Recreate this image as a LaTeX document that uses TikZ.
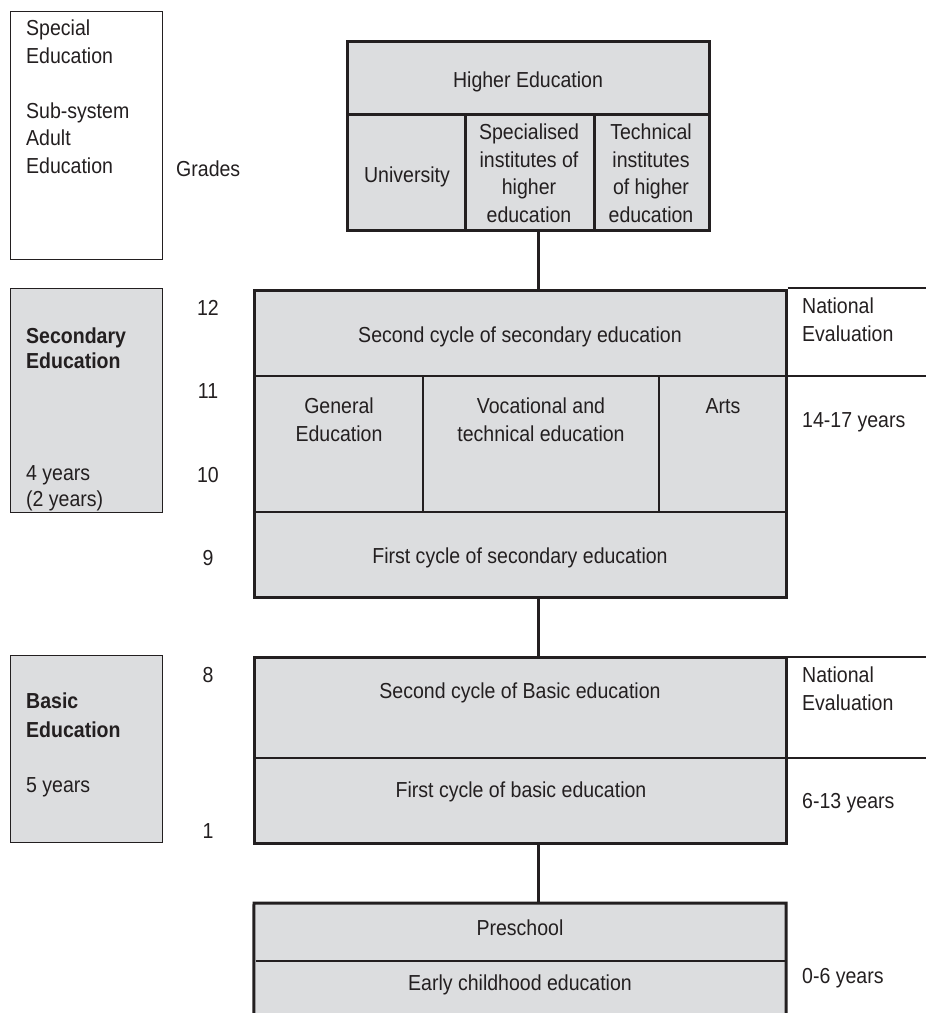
\documentclass[tikz,border=0pt]{standalone}
\usepackage{fontspec}
\setmainfont{Liberation Sans}[FakeStretch=0.9]
\definecolor{ink}{HTML}{231F20}
\definecolor{boxgray}{HTML}{DCDDDF}
\tikzset{
  txt/.style={font=\fontsize{21.7}{27.5}\selectfont, inner sep=0pt, text=ink, anchor=base},
  ltxt/.style={txt, anchor=base west, align=left},
  ctxt/.style={txt, align=center},
  block/.style={draw=ink, fill=boxgray, line width=3pt, inner sep=0pt},
  sidebox/.style={draw=ink, line width=1pt, inner sep=0pt},
  thickline/.style={draw=ink, line width=3pt},
  thinline/.style={draw=ink, line width=1.1pt},
  connector/.style={draw=ink, line width=3pt},
}
\begin{document}
\begin{tikzpicture}[x=1pt,y=-1pt]
\useasboundingbox (0,0) rectangle (926,1013);

% ---- left side boxes
\node[sidebox, fill=white, minimum width=152pt, minimum height=248pt] (spe) at (86,135) {};
\node[sidebox, fill=boxgray, minimum width=152pt, minimum height=224pt] (secl) at (86,400) {};
\node[sidebox, fill=boxgray, minimum width=152pt, minimum height=187pt] (basl) at (86,748.5) {};

% ---- main blocks
\node[block, minimum width=362pt, minimum height=189pt] (he) at (528,135.5) {};
\node[block, minimum width=532pt, minimum height=307pt] (sec) at (520,443.5) {};
\node[block, minimum width=532pt, minimum height=186pt] (bas) at (520,750) {};
\node[fill=boxgray, inner sep=0pt, minimum width=532pt, minimum height=120pt] (pre) at (520,963) {};
\draw[thickline] (pre.south west) -- (254,903) -- (786,903) -- (pre.south east);

% ---- dividers in Higher Education
\draw[thickline] (347,114) -- (709,114);
\draw[thickline] (465,114) -- (465,230);
\draw[thickline] (594,114) -- (594,230);

% ---- dividers in Secondary
\draw[thinline] (255.5,376) -- (784.5,376);
\draw[thinline] (255.5,512) -- (784.5,512);
\draw[thinline] (423,376) -- (423,512);
\draw[thinline] (659,376) -- (659,512);
\draw[thinline] (787.5,288) -- (926,288);
\draw[thinline] (787.5,376) -- (926,376);

% ---- dividers in Basic
\draw[thinline] (255.5,758) -- (784.5,758);
\draw[thinline] (787.5,657) -- (926,657);
\draw[thinline] (787.5,758) -- (926,758);

% ---- preschool divider
\draw[thinline] (255.5,961) -- (784.5,961);

% ---- connectors
\coordinate (cx) at (538,0);
\draw[connector] (he.south -| cx) -- (sec.north -| cx);
\draw[connector] (sec.south -| cx) -- (bas.north -| cx);
\draw[connector] (bas.south -| cx) -- (254,903 -| cx);

% ---- texts in Higher Education (anchor base = last line)
\node[ctxt] (heT) at (528,87) {Higher Education};
\node[ctxt] (uni) at (407,182) {University};
\node[ctxt] (spi) at (529,222) {Specialised\\institutes of\\higher\\education};
\node[ctxt] (tec) at (651,222) {Technical\\institutes\\of higher\\education};

% ---- texts in Secondary
\node[ctxt] (sc2) at (520,342) {Second cycle of secondary education};
\node[ctxt] (gen) at (339,441) {General\\Education};
\node[ctxt] (voc) at (541,441) {Vocational and\\technical education};
\node[ctxt] (art) at (723,413) {Arts};
\node[ctxt] (sc1) at (520,563) {First cycle of secondary education};

% ---- texts in Basic
\node[ctxt] (bc2) at (520,698) {Second cycle of Basic education};
\node[ctxt] (bc1) at (521,797) {First cycle of basic education};

% ---- texts in Preschool
\node[ctxt] (psc) at (520,935) {Preschool};
\node[ctxt] (ece) at (520,990) {Early childhood education};

% ---- left texts
\node[ltxt] (speT) at (26,173) {Special\\Education\\[27.5pt]Sub-system\\Adult\\Education};
\node[ltxt] (grd) at (176,176) {Grades};
\node[ltxt, font=\fontsize{21.7}{25}\selectfont\bfseries] (secT) at (26,368) {Secondary\\Education};
\node[ltxt, font=\fontsize{21.7}{26}\selectfont] (secY) at (26,506) {4 years\\(2 years)};
\node[ltxt, font=\fontsize{21.7}{28.5}\selectfont\bfseries] (basT) at (26,737) {Basic\\Education};
\node[ltxt] (basY) at (26,792) {5 years};

% ---- grade numbers
\node[txt] (g12) at (208,315) {12};
\node[txt] (g11) at (208,398) {11};
\node[txt] (g10) at (208,482) {10};
\node[txt] (g9) at (208,565) {9};
\node[txt] (g8) at (208,682) {8};
\node[txt] (g1) at (208,838) {1};

% ---- right texts
\node[ltxt] (ne1) at (802,341) {National\\Evaluation};
\node[ltxt] (a1) at (802,427) {14-17 years};
\node[ltxt] (ne2) at (802,710) {National\\Evaluation};
\node[ltxt] (a2) at (802,808) {6-13 years};
\node[ltxt] (a3) at (802,983) {0-6 years};
\end{tikzpicture}
\end{document}
